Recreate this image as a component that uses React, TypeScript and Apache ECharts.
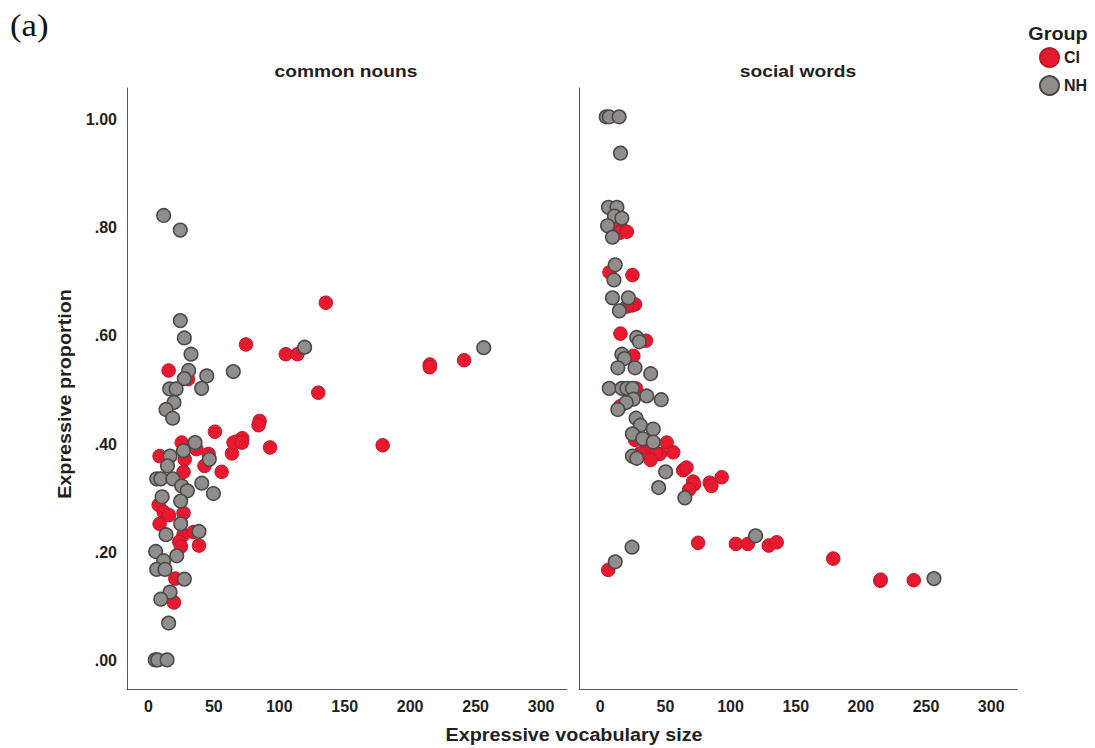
import React, { useEffect, useRef } from "react";
import * as echarts from "echarts";

type Pt = [number, number];

const panelTitles = ["common nouns", "social words"];
const groups = ["CI", "NH"];
const xTicks = [0, 50, 100, 150, 200, 250, 300];
const yTicks = [0, 0.2, 0.4, 0.6, 0.8, 1.0];

const nounsCI: Pt[] = [
  [15.5, 0.536], [30.3, 0.52], [74.6, 0.584], [85, 0.443], [84.2, 0.435],
  [50.9, 0.423], [25.5, 0.403], [36.7, 0.391], [46, 0.382], [8.6, 0.378],
  [27.8, 0.372], [42.9, 0.36], [63.9, 0.383], [71.7, 0.411], [67.7, 0.405],
  [65.1, 0.403], [71.5, 0.403], [93, 0.394], [26.9, 0.349], [56, 0.349],
  [7.9, 0.288], [11.7, 0.275], [15.8, 0.269], [26.9, 0.273], [8.6, 0.253],
  [26.9, 0.233], [34.6, 0.238], [23.6, 0.22], [24.9, 0.211], [38.7, 0.213],
  [20.6, 0.152], [19.6, 0.108], [105, 0.566], [113.9, 0.566], [129.8, 0.495],
  [179, 0.398], [215, 0.547], [215, 0.542], [241.2, 0.555], [135.6, 0.661],
];

const nounsNH: Pt[] = [
  [11.7, 0.822], [24.4, 0.795], [24.4, 0.628], [27.5, 0.596], [32.6, 0.566],
  [30.8, 0.536], [64.9, 0.534], [27.5, 0.521], [44.6, 0.526], [16.3, 0.502],
  [21.2, 0.502], [40.7, 0.503], [19.6, 0.477], [13.5, 0.464], [18.6, 0.448],
  [35.7, 0.403], [26.8, 0.388], [46.6, 0.372], [16.6, 0.378], [14.6, 0.36],
  [6.4, 0.336], [9.5, 0.336], [18.7, 0.336], [25.5, 0.323], [29.8, 0.314],
  [40.8, 0.328], [49.7, 0.309], [10.5, 0.303], [24.7, 0.295], [24.7, 0.253],
  [13.5, 0.233], [38.7, 0.239], [5.6, 0.202], [21.7, 0.194], [11.7, 0.185],
  [6.4, 0.169], [12.7, 0.169], [27.5, 0.151], [16.6, 0.127], [9.5, 0.114],
  [15.5, 0.07], [5.3, 0.002], [7.2, 0.002], [14.3, 0.002], [119.4, 0.579],
  [256.2, 0.578],
];

const socialCI: Pt[] = [
  [15.3, 0.803], [14.7, 0.79], [20.4, 0.792], [7.1, 0.717], [24.7, 0.712],
  [26.7, 0.658], [24.2, 0.656], [20.4, 0.654], [15.5, 0.604], [35.1, 0.591],
  [25.4, 0.563], [27.5, 0.503], [15.3, 0.47], [26.7, 0.408], [51, 0.403],
  [35.7, 0.395], [39.5, 0.389], [45.8, 0.382], [42.8, 0.384], [56, 0.385],
  [30.6, 0.383], [38.7, 0.371], [63.6, 0.352], [66.2, 0.357], [71.3, 0.331],
  [72, 0.326], [68.2, 0.316], [84, 0.329], [85.3, 0.323], [93.2, 0.339],
  [75.1, 0.218], [104.1, 0.216], [113.3, 0.216], [129.3, 0.213], [135.4, 0.219],
  [178.8, 0.189], [214.9, 0.148], [215.2, 0.15], [240.6, 0.149], [6.1, 0.168],
];

const socialNH: Pt[] = [
  [4.6, 1.004], [6.9, 1.004], [14.5, 1.004], [15.5, 0.937], [6.3, 0.837],
  [12.8, 0.837], [10.9, 0.821], [16.6, 0.817], [5.6, 0.803], [9.4, 0.782],
  [11.5, 0.731], [10.5, 0.703], [9.4, 0.67], [21.6, 0.67], [14.7, 0.646],
  [28, 0.597], [30, 0.589], [16.6, 0.566], [18.6, 0.558], [13.5, 0.541],
  [26.7, 0.541], [38.7, 0.53], [6.9, 0.503], [16.6, 0.503], [20.4, 0.503],
  [24.7, 0.503], [25.4, 0.483], [35.7, 0.489], [46.8, 0.482], [19.9, 0.477],
  [13.5, 0.464], [27.5, 0.448], [30.8, 0.435], [40.7, 0.428], [24.7, 0.419],
  [32.6, 0.41], [40.7, 0.404], [24.7, 0.378], [28, 0.374], [50.2, 0.349],
  [44.8, 0.32], [64.9, 0.301], [119.2, 0.231], [256.1, 0.152], [11.5, 0.183],
  [24.4, 0.21],
];

const FONT = "'Liberation Sans', Arial, Helvetica, sans-serif";
const TXT = "#231f20";
const AXIS = "#555555";

const RED = { color: "#e8192f", borderColor: "#b8182a", borderWidth: 1, opacity: 1 };
const GREY = { color: "#928d8d", borderColor: "#4a4a4a", borderWidth: 1.6, opacity: 1 };

const GRID_W = 440;
const GRID_TOP = 88;
const GRID_H = 601;
const LEFT1 = 127;
const LEFT2 = 579;

export default function App() {
  const ref = useRef<HTMLDivElement>(null);
  useEffect(() => {
    document.body.style.margin = "0";
    if (!ref.current) return;
    const chart = echarts.init(ref.current, null, { renderer: "svg" });

    const xAxisBase = (gridIndex: number) => ({
      type: "value",
      gridIndex,
      min: -16.3,
      max: 319.8,
      splitLine: { show: false },
      axisTick: { show: false },
      axisLine: { show: true, onZero: false, lineStyle: { color: AXIS, width: 1 } },
      axisLabel: {
        customValues: xTicks,
        margin: 9,
        fontFamily: FONT,
        fontWeight: "bold",
        fontSize: 16,
        color: TXT,
      },
    });
    const yAxisBase = (gridIndex: number, showLabels: boolean) => ({
      type: "value",
      gridIndex,
      min: -0.0517,
      max: 1.0572,
      splitLine: { show: false },
      axisTick: { show: false },
      axisLine: { show: true, onZero: false, lineStyle: { color: AXIS, width: 1 } },
      axisLabel: {
        show: showLabels,
        customValues: yTicks,
        margin: 10,
        fontFamily: FONT,
        fontWeight: "bold",
        fontSize: 16,
        color: TXT,
        formatter: (v: number) => (v >= 1 ? v.toFixed(2) : v.toFixed(2).replace(/^0/, "")),
      },
    });

    const sc = (name: string, data: Pt[], idx: number, style: any, z: number) => ({
      type: "scatter",
      name,
      data,
      xAxisIndex: idx,
      yAxisIndex: idx,
      symbol: "circle",
      symbolSize: 13.5,
      itemStyle: style,
      z,
      emphasis: { disabled: true },
    });

    const txt = (text: string, x: number, y: number, size: number, extra: any = {}) => ({
      type: "text",
      x,
      y,
      scaleX: 1.13,
      ...extra,
      style: {
        text,
        font: `bold ${size}px ${FONT}`,
        fill: TXT,
        align: "center",
        verticalAlign: "middle",
      },
    });

    chart.setOption({
      animation: false,
      backgroundColor: "#ffffff",
      grid: [
        { left: LEFT1, top: GRID_TOP, width: GRID_W, height: GRID_H },
        { left: LEFT2, top: GRID_TOP, width: GRID_W - 2, height: GRID_H },
      ],
      xAxis: [xAxisBase(0), xAxisBase(1)],
      yAxis: [yAxisBase(0, true), yAxisBase(1, false)],
      legend: {
        data: groups,
        orient: "vertical",
        left: 1034,
        top: 42,
        padding: 5,
        itemWidth: 19,
        itemHeight: 19,
        itemGap: 7,
        icon: "circle",
        textStyle: { fontFamily: FONT, fontWeight: "bold", fontSize: 16, color: TXT },
        selectedMode: false,
      },
      series: [
        sc(groups[0], nounsCI, 0, RED, 2),
        sc(groups[1], nounsNH, 0, GREY, 3),
        sc(groups[0], socialCI, 1, RED, 2),
        sc(groups[1], socialNH, 1, GREY, 3),
      ],
      graphic: [
        {
          type: "text",
          x: 10,
          y: 26,
          scaleX: 1.12,
          style: {
            text: "(a)",
            font: "31px 'Liberation Serif', 'DejaVu Serif', serif",
            fill: "#111",
            align: "left",
            verticalAlign: "middle",
          },
        },
        txt(panelTitles[0], 346, 71, 17),
        txt(panelTitles[1], 798, 71, 17),
        txt("Expressive vocabulary size", 574, 735, 17.5),
        {
          type: "text",
          x: 65,
          y: 394,
          rotation: Math.PI / 2,
          scaleX: 1.13,
          style: {
            text: "Expressive proportion",
            font: `bold 17.5px ${FONT}`,
            fill: TXT,
            align: "center",
            verticalAlign: "middle",
          },
        },
        txt("Group", 1058, 34, 17.5),
      ],
    });
    return () => chart.dispose();
  }, []);
  return <div ref={ref} style={{ width: 1095, height: 748 }} />;
}
